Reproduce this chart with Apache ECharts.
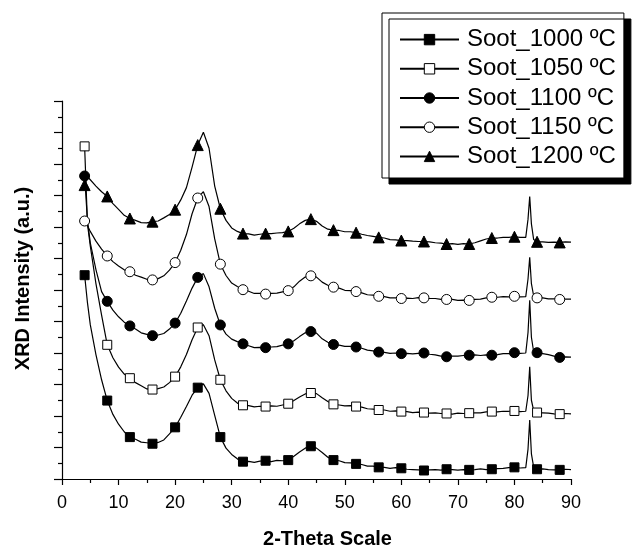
<!DOCTYPE html>
<html>
<head>
<meta charset="utf-8">
<title>XRD Soot</title>
<script src="https://cdn.jsdelivr.net/npm/echarts@6/dist/echarts.min.js"></script>
<style>
html,body{margin:0;padding:0;background:#fff;}
#xrdChart{width:635px;height:554px;}
</style>
</head>
<body>
<div id="xrdChart"></div>
<script>
// 2-theta positions of the traced points
var angles = [4, 4.5, 5, 6, 7, 8, 9, 10, 11, 12,
	13, 14, 15, 16, 17, 18, 19, 20, 21, 22,
	23, 24, 25, 26, 27, 28, 29, 30, 31, 32,
	33, 34, 35, 36, 37, 38, 39, 40, 41, 42,
	43, 44, 45, 46, 47, 48, 49, 50, 51, 52,
	53, 54, 55, 56, 57, 58, 59, 60, 61, 62,
	63, 64, 65, 66, 67, 68, 69, 70, 71, 72,
	73, 74, 75, 76, 77, 78, 79, 80, 81, 82,
	82.4, 82.7, 83, 83.4, 84, 85, 86, 87, 88, 89, 90];
// markers every 4 degrees
var markerAngles = [4, 8, 12, 16, 20, 24, 28, 32, 36, 40, 44, 48, 52, 56, 60, 64, 68, 72, 76, 80, 84, 88];

var soot1000 = [6.47, 5.6, 4.9, 3.95, 3.15, 2.49, 2.05, 1.74, 1.5, 1.33,
	1.26, 1.17, 1.15, 1.12, 1.16, 1.24, 1.43, 1.64, 1.96, 2.3,
	2.66, 2.9, 3.02, 2.72, 2.02, 1.33, 0.98, 0.78, 0.64, 0.55,
	0.56, 0.53, 0.57, 0.58, 0.55, 0.59, 0.58, 0.6, 0.72, 0.86,
	0.98, 1.04, 0.98, 0.84, 0.69, 0.6, 0.58, 0.52, 0.51, 0.48,
	0.46, 0.41, 0.41, 0.37, 0.37, 0.34, 0.36, 0.34, 0.31, 0.3,
	0.29, 0.27, 0.29, 0.3, 0.28, 0.31, 0.3, 0.28, 0.3, 0.29,
	0.3, 0.32, 0.3, 0.31, 0.33, 0.34, 0.36, 0.37, 0.35, 0.36,
	0.95, 1.87, 0.8, 0.38, 0.31, 0.32, 0.3, 0.29, 0.29, 0.31, 0.3];
var soot1050 = [10.56, 8.1, 7.4, 6.2, 5.2, 4.26, 3.85, 3.55, 3.33, 3.2,
	3.06, 2.96, 2.86, 2.84, 2.87, 2.92, 3.06, 3.25, 3.56, 3.95,
	4.42, 4.81, 4.9, 4.55, 3.78, 3.15, 2.8, 2.56, 2.41, 2.34,
	2.33, 2.29, 2.31, 2.3, 2.32, 2.31, 2.35, 2.39, 2.49, 2.6,
	2.7, 2.73, 2.71, 2.58, 2.46, 2.37, 2.35, 2.32, 2.33, 2.3,
	2.28, 2.23, 2.22, 2.19, 2.19, 2.15, 2.16, 2.14, 2.14, 2.11,
	2.12, 2.11, 2.09, 2.1, 2.08, 2.08, 2.06, 2.09, 2.08, 2.09,
	2.1, 2.1, 2.13, 2.14, 2.13, 2.15, 2.15, 2.16, 2.14, 2.15,
	2.65, 3.56, 2.5, 2.17, 2.11, 2.1, 2.09, 2.07, 2.06, 2.08, 2.07];
var soot1100 = [9.62, 8.2, 7.5, 6.65, 5.95, 5.64, 5.36, 5.15, 4.98, 4.86,
	4.76, 4.64, 4.59, 4.55, 4.57, 4.62, 4.76, 4.95, 5.26, 5.65,
	6.06, 6.4, 6.52, 6.1, 5.42, 4.89, 4.6, 4.44, 4.36, 4.29,
	4.23, 4.17, 4.18, 4.17, 4.19, 4.2, 4.25, 4.29, 4.39, 4.52,
	4.64, 4.68, 4.63, 4.45, 4.34, 4.27, 4.25, 4.21, 4.21, 4.19,
	4.15, 4.09, 4.07, 4.03, 4.02, 3.99, 4.0, 3.98, 3.99, 3.97,
	3.99, 4.0, 3.96, 3.94, 3.9, 3.88, 3.9, 3.9, 3.92, 3.93,
	3.94, 3.92, 3.94, 3.93, 3.95, 3.98, 3.98, 4.01, 3.99, 4.0,
	4.65, 5.67, 4.5, 4.04, 4.01, 3.98, 3.95, 3.9, 3.86, 3.88, 3.87];
var soot1150 = [8.19, 8.05, 7.86, 7.55, 7.3, 7.08, 6.9, 6.76, 6.64, 6.58,
	6.47, 6.41, 6.34, 6.32, 6.36, 6.45, 6.63, 6.87, 7.26, 7.76,
	8.42, 8.92, 9.12, 8.65, 7.62, 6.82, 6.46, 6.22, 6.11, 6.01,
	5.96, 5.89, 5.89, 5.87, 5.89, 5.9, 5.94, 5.98, 6.1, 6.28,
	6.41, 6.45, 6.41, 6.25, 6.15, 6.09, 6.06, 5.99, 5.98, 5.95,
	5.91, 5.85, 5.84, 5.8, 5.79, 5.75, 5.75, 5.73, 5.74, 5.73,
	5.76, 5.75, 5.73, 5.73, 5.7, 5.7, 5.7, 5.67, 5.68, 5.67,
	5.7, 5.71, 5.75, 5.77, 5.77, 5.79, 5.78, 5.8, 5.78, 5.79,
	6.35, 7.04, 6.2, 5.81, 5.75, 5.75, 5.72, 5.72, 5.7, 5.71, 5.71];
var soot1200 = [9.33, 9.6, 9.5, 9.3, 9.12, 8.97, 8.74, 8.56, 8.37, 8.27,
	8.21, 8.14, 8.13, 8.17, 8.19, 8.29, 8.4, 8.55, 8.86, 9.25,
	9.9, 10.6, 11.01, 10.5, 9.3, 8.58, 8.21, 7.97, 7.86, 7.79,
	7.78, 7.74, 7.77, 7.79, 7.79, 7.81, 7.82, 7.86, 7.96, 8.1,
	8.21, 8.25, 8.18, 8.03, 7.93, 7.9, 7.89, 7.85, 7.85, 7.82,
	7.77, 7.73, 7.7, 7.67, 7.65, 7.6, 7.59, 7.57, 7.57, 7.55,
	7.54, 7.54, 7.53, 7.5, 7.49, 7.46, 7.47, 7.45, 7.47, 7.46,
	7.5, 7.56, 7.62, 7.65, 7.65, 7.67, 7.67, 7.69, 7.67, 7.67,
	8.25, 8.97, 8.1, 7.6, 7.53, 7.53, 7.51, 7.52, 7.51, 7.53, 7.52];

var xTicks = [0, 10, 20, 30, 40, 50, 60, 70, 80, 90];
var seriesNames = ['Soot_1000 ºC', 'Soot_1050 ºC', 'Soot_1100 ºC', 'Soot_1150 ºC', 'Soot_1200 ºC'];
var seriesValues = [soot1000, soot1050, soot1100, soot1150, soot1200];
var seriesSymbols = ['rect', 'rect', 'circle', 'circle', 'triangle'];
var seriesFills = ['#000', '#fff', '#000', '#fff', '#000'];
var symbolSizes = [9, 9, 10, 10, 11];

var fontName = 'Liberation Sans, Arial, sans-serif';

function buildData(values){
	var data = [];
	for (var i = 0; i < angles.length; i++) {
		var item = {value: [angles[i], values[i]]};
		if (markerAngles.indexOf(angles[i]) < 0) {
			item.symbol = 'none';
		}
		data.push(item);
	}
	return data;
}

var series = [];
for (var s = 0; s < seriesNames.length; s++) {
	series.push({
		name: seriesNames[s],
		type: 'line',
		data: buildData(seriesValues[s]),
		symbol: seriesSymbols[s],
		symbolSize: symbolSizes[s],
		showAllSymbol: true,
		animation: false,
		lineStyle: {color: '#000', width: 1.2},
		itemStyle: {color: seriesFills[s], borderColor: '#000', borderWidth: 1}
	});
}

var chart = echarts.init(document.getElementById('xrdChart'));
var option = {
	backgroundColor: '#fff',
	animation: false,
	grid: {left: 62, right: 64, top: 101, bottom: 68},
	legend: {
		orient: 'vertical',
		left: 382,
		top: 13,
		padding: [12, 8, 7, 17],
		itemWidth: 59,
		itemHeight: 13,
		itemGap: 0,
		backgroundColor: '#fff',
		borderColor: '#000',
		borderWidth: 1,
		shadowColor: '#000',
		shadowBlur: 0,
		shadowOffsetX: 7,
		shadowOffsetY: 6,
		itemStyle: {borderWidth: 1},
		textStyle: {fontSize: 24, color: '#000', fontFamily: fontName, lineHeight: 29.2, padding: [0, 0, 0, 3]},
		data: seriesNames
	},
	xAxis: {
		type: 'value',
		min: xTicks[0],
		max: xTicks[xTicks.length - 1],
		interval: 10,
		name: '2-Theta Scale',
		nameLocation: 'middle',
		nameGap: 50,
		nameTextStyle: {fontSize: 20, fontWeight: 'bold', color: '#000', fontFamily: fontName, padding: [0, 0, 0, 22]},
		axisLine: {show: true, lineStyle: {color: '#000', width: 1.2}},
		axisTick: {show: true, inside: false, length: 6, lineStyle: {color: '#000', width: 1.2}},
		minorTick: {show: true, splitNumber: 2, length: 4, lineStyle: {color: '#000', width: 1.2}},
		axisLabel: {fontSize: 18, color: '#000', fontFamily: fontName, margin: 15},
		splitLine: {show: false}
	},
	yAxis: {
		type: 'value',
		min: 0,
		max: 12,
		interval: 1,
		name: 'XRD Intensity (a.u.)',
		nameLocation: 'middle',
		nameGap: 29,
		nameTextStyle: {fontSize: 20, fontWeight: 'bold', color: '#000', fontFamily: fontName, padding: [0, 0, 0, 23]},
		axisLine: {show: true, lineStyle: {color: '#000', width: 1.2}},
		axisTick: {show: true, inside: false, length: 8, lineStyle: {color: '#000', width: 1.2}},
		minorTick: {show: true, splitNumber: 2, length: 4, lineStyle: {color: '#000', width: 1.2}},
		axisLabel: {show: false},
		splitLine: {show: false}
	},
	series: series
};
chart.setOption(option);
</script>
</body>
</html>
